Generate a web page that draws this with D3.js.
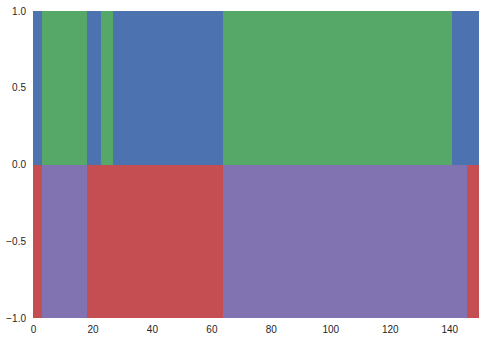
<!DOCTYPE html>
<html><head><meta charset="utf-8">
<script src="https://cdn.jsdelivr.net/npm/d3@7"></script>
<style>body{margin:0;background:#fff}svg{display:block}</style>
</head><body>
<script>
// Top half (0..1) segments: [start, end, state]
const topStarts = [0, 3, 18, 23, 27, 64, 141];
const topEnds   = [3, 18, 23, 27, 64, 141, 150];
const topStates = ["A", "B", "A", "B", "A", "B", "A"];
// Bottom half (-1..0) segments
const botStarts = [0, 3, 18, 64, 146];
const botEnds   = [3, 18, 64, 146, 150];
const botStates = ["C", "D", "C", "D", "C"];
const xTicks = [0, 20, 40, 60, 80, 100, 120, 140];
const yTicks = [-1.0, -0.5, 0.0, 0.5, 1.0];
const stateColors = {A: "#4C72B0", B: "#55A868", C: "#C44E52", D: "#8172B2"};

const W = 486, H = 341;
const m = {left: 33, right: 7, top: 11, bottom: 23};
const svg = d3.select("body").append("svg").attr("width", W).attr("height", H);
const x = d3.scaleLinear().domain([0, 150]).range([m.left, W - m.right]);
const y = d3.scaleLinear().domain([-1, 1]).range([H - m.bottom, m.top]);

svg.append("rect").attr("x", m.left).attr("y", m.top)
  .attr("width", W - m.left - m.right).attr("height", H - m.top - m.bottom)
  .attr("fill", "#EAEAF2");

const topData = topStarts.map((s, i) => ({s, e: topEnds[i], st: topStates[i], y0: 0, y1: 1}));
const botData = botStarts.map((s, i) => ({s, e: botEnds[i], st: botStates[i], y0: -1, y1: 0}));
svg.append("g").selectAll("rect").data(topData.concat(botData)).join("rect")
  .attr("x", d => x(d.s)).attr("width", d => x(d.e) - x(d.s))
  .attr("y", d => y(d.y1)).attr("height", d => y(d.y0) - y(d.y1))
  .attr("fill", d => stateColors[d.st]).attr("shape-rendering", "crispEdges");

const fmt = v => d3.format(".1f")(v).replace("-", "\u2212");
const xa = svg.append("g").attr("transform", `translate(0,${H - m.bottom})`)
  .call(d3.axisBottom(x).tickValues(xTicks).tickSize(0).tickPadding(8));
const ya = svg.append("g").attr("transform", `translate(${m.left},0)`)
  .call(d3.axisLeft(y).tickValues(yTicks).tickFormat(fmt).tickSize(0).tickPadding(7));
[xa, ya].forEach(a => {
  a.select(".domain").remove();
  a.selectAll("text").attr("fill", "#262626")
    .style("font-family", "'Liberation Sans', Arial, sans-serif").style("font-size", "10px");
});
</script>
</body></html>
